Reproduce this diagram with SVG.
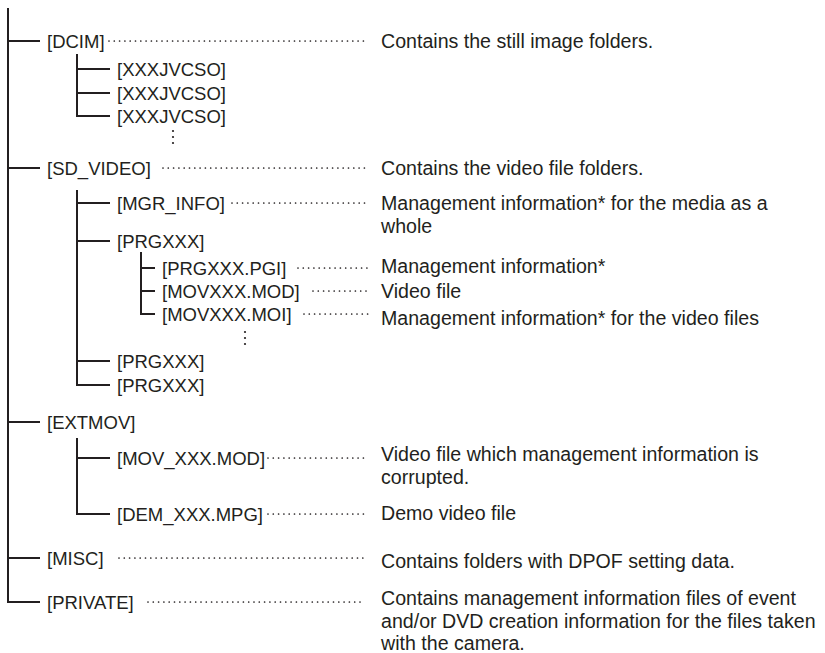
<svg xmlns="http://www.w3.org/2000/svg" width="825" height="653" viewBox="0 0 825 653">
<style>
.n{font-family:"Liberation Sans",Arial,sans-serif;font-size:18.5px;fill:#231f20}
.d{font-family:"Liberation Sans",Arial,sans-serif;font-size:19.6px;fill:#231f20}
.t{fill:none;stroke:#231f20;stroke-width:2}
.l{fill:none;stroke:#231f20;stroke-width:1.7;stroke-linecap:round;stroke-dasharray:0 5.3}
.v{fill:#231f20}
</style>
<rect width="825" height="653" fill="#fff"/>
<g id="connectors">
<path class="t" d="M8 8V602H40M8 41H40M8 168H40M8 422H40M8 558H40"/>
<path class="t" d="M77 54V116H110M77 69H110M77 93H110"/>
<path class="t" d="M77 190V385H110M77 203H110M77 241H110M77 361H110"/>
<path class="t" d="M141 252V314H155M141 268H155M141 291H155"/>
<path class="t" d="M77 438V514H110M77 458H110"/>
<line class="l" x1="109" y1="41" x2="368" y2="41"/>
<line class="l" x1="163" y1="168" x2="368" y2="168"/>
<line class="l" x1="232" y1="203" x2="368" y2="203"/>
<line class="l" x1="298" y1="268" x2="368" y2="268"/>
<line class="l" x1="313" y1="291" x2="368" y2="291"/>
<line class="l" x1="304" y1="314" x2="368" y2="314"/>
<line class="l" x1="268" y1="458" x2="364" y2="458"/>
<line class="l" x1="268" y1="514" x2="364" y2="514"/>
<line class="l" x1="119" y1="558" x2="364" y2="558"/>
<line class="l" x1="148" y1="602" x2="364" y2="602"/>
</g>
<g id="dcim"><text class="n" x="47" y="47.5">[DCIM]</text><text class="d" x="381" y="47.5">Contains the still image folders.</text></g>
<g id="jvc1"><text class="n" x="117" y="75.5">[XXXJVCSO]</text></g>
<g id="jvc2"><text class="n" x="117" y="99.5">[XXXJVCSO]</text></g>
<g id="jvc3"><text class="n" x="117" y="122.5">[XXXJVCSO]</text></g>
<g id="more1"><circle class="v" cx="173" cy="131" r="1.1"/><circle class="v" cx="173" cy="137" r="1.1"/><circle class="v" cx="173" cy="143" r="1.1"/></g>
<g id="sdvideo"><text class="n" x="47" y="174.5">[SD_VIDEO]</text><text class="d" x="381" y="175">Contains the video file folders.</text></g>
<g id="mgrinfo"><text class="n" x="117" y="209.5">[MGR_INFO]</text><text class="d" x="381" y="210">Management information* for the media as a</text><text class="d" x="381" y="233">whole</text></g>
<g id="prg1"><text class="n" x="117" y="247.5">[PRGXXX]</text></g>
<g id="pgi"><text class="n" x="162" y="274.5">[PRGXXX.PGI]</text><text class="d" x="381" y="273">Management information*</text></g>
<g id="mod"><text class="n" x="162" y="297.5">[MOVXXX.MOD]</text><text class="d" x="381" y="298">Video file</text></g>
<g id="moi"><text class="n" x="162" y="320.5">[MOVXXX.MOI]</text><text class="d" x="381" y="325">Management information* for the video files</text></g>
<g id="more2"><circle class="v" cx="245" cy="332" r="1.1"/><circle class="v" cx="245" cy="338" r="1.1"/><circle class="v" cx="245" cy="344" r="1.1"/></g>
<g id="prg2"><text class="n" x="117" y="367.5">[PRGXXX]</text></g>
<g id="prg3"><text class="n" x="117" y="391.5">[PRGXXX]</text></g>
<g id="extmov"><text class="n" x="47" y="428.5">[EXTMOV]</text></g>
<g id="movxxx"><text class="n" x="117" y="464.5">[MOV_XXX.MOD]</text><text class="d" x="381" y="461">Video file which management information is</text><text class="d" x="381" y="484">corrupted.</text></g>
<g id="demxxx"><text class="n" x="117" y="520.5">[DEM_XXX.MPG]</text><text class="d" x="381" y="520">Demo video file</text></g>
<g id="misc"><text class="n" x="47" y="564.5">[MISC]</text><text class="d" x="381" y="568">Contains folders with DPOF setting data.</text></g>
<g id="private"><text class="n" x="47" y="608.5">[PRIVATE]</text><text class="d" x="381" y="605">Contains management information files of event</text><text class="d" x="381" y="628">and/or DVD creation information for the files taken</text><text class="d" x="381" y="650">with the camera.</text></g>
</svg>
